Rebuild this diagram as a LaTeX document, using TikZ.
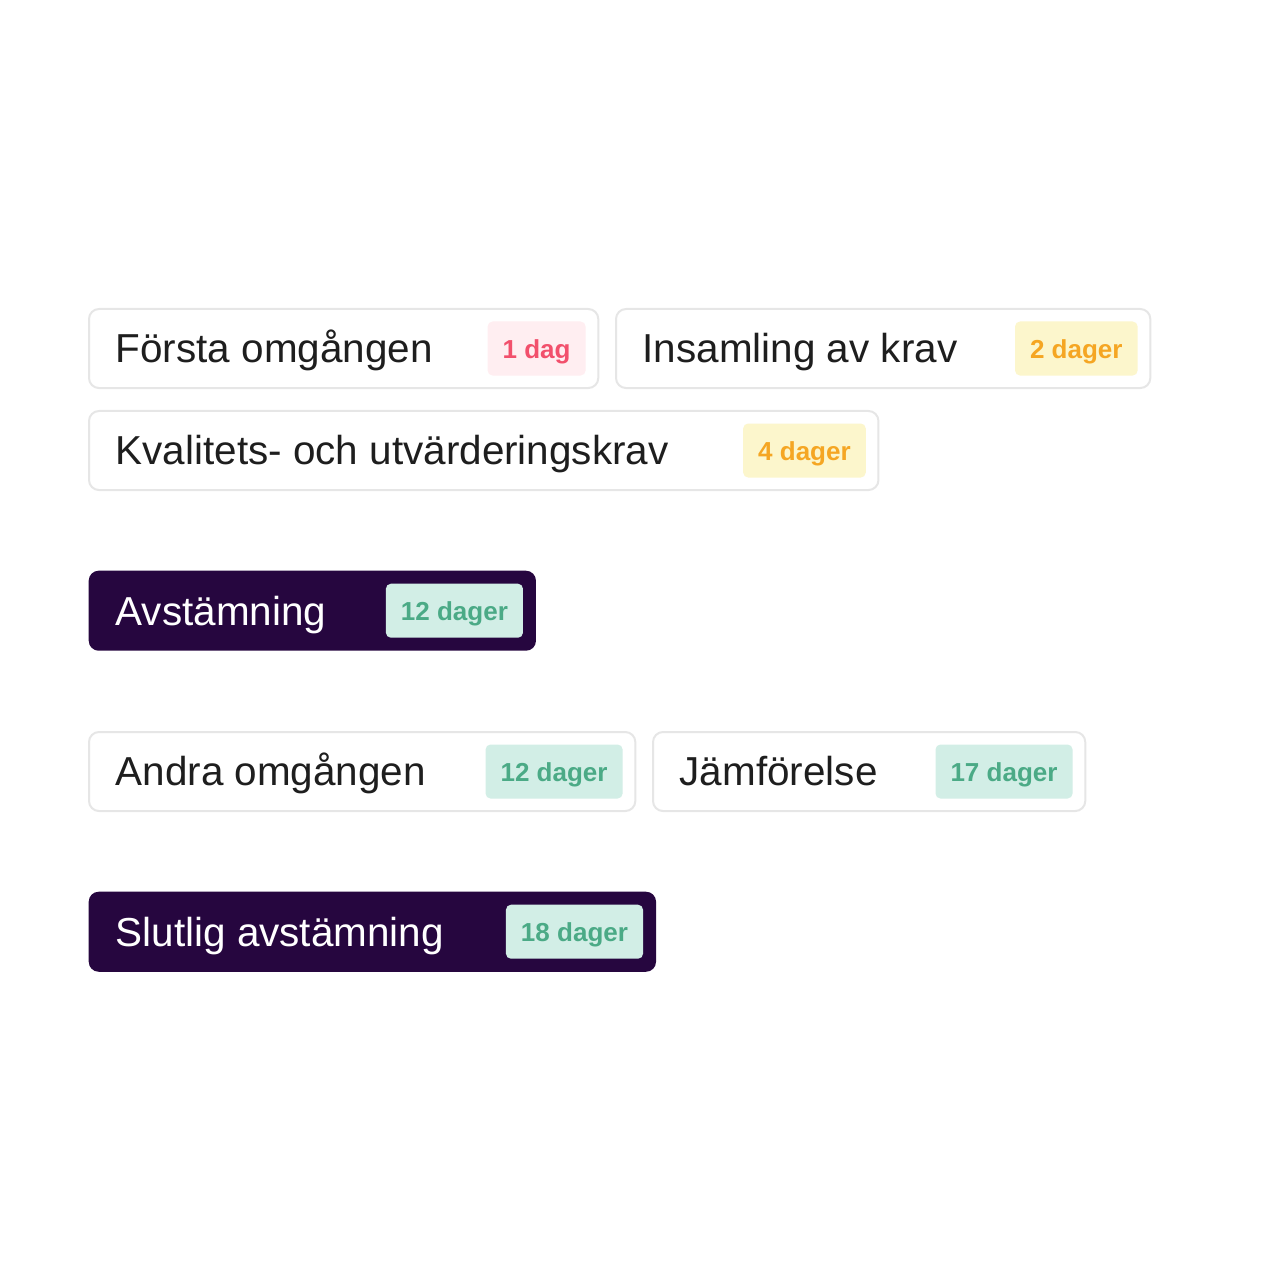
\documentclass[tikz,border=0pt]{standalone}
\usepackage{fontspec}
\setmainfont{Liberation Sans}
\usetikzlibrary{positioning}
\definecolor{textdark}{HTML}{1E1E1E}
\definecolor{cardline}{HTML}{E6E6E6}
\definecolor{darkcard}{HTML}{26063F}
\definecolor{pinktext}{HTML}{F2506C}
\definecolor{pinkbg}{HTML}{FFEEF1}
\definecolor{orangetext}{HTML}{F5A623}
\definecolor{yellowbg}{HTML}{FCF6CC}
\definecolor{greentext}{HTML}{4BAA86}
\definecolor{mintbg}{HTML}{D2EEE6}
\tikzset{
  card/.style={draw=cardline, line width=0.02cm, fill=white, rounded corners=0.1cm,
    minimum height=0.79cm, anchor=north west, inner sep=0pt},
  darkbox/.style={fill=darkcard, rounded corners=0.1cm,
    minimum height=0.8cm, anchor=north west, inner sep=0pt},
  lbl/.style={anchor=base west, inner sep=0pt, text=textdark,
    font=\fontsize{11.5}{14}\selectfont},
  darklbl/.style={lbl, text=white},
  badge/.style={anchor=east, rounded corners=0.05cm, minimum height=0.54cm,
    inner xsep=0.15cm, inner ysep=0pt, text height=0.19cm, text depth=0pt,
    font=\fontsize{7.4}{9}\selectfont\bfseries},
  pinkbadge/.style={badge, fill=pinkbg, text=pinktext},
  yellowbadge/.style={badge, fill=yellowbg, text=orangetext},
  greenbadge/.style={badge, fill=mintbg, text=greentext},
}
\begin{document}
\begin{tikzpicture}[x=0.01cm, y=-0.01cm]
\useasboundingbox (0,0) rectangle (1280,1280);
% erste Reihe
\node[card, minimum width=5.09cm] (forsta) at (88,308) {};
\node[lbl] (forstalbl) at ([xshift=0.27cm, yshift=-0.54cm]forsta.north west) {Första omgången};
\node[pinkbadge] (forstadag) at ([xshift=-0.13cm]forsta.east) {1 dag};
\node[card, minimum width=5.34cm] (insamling) at (615,308) {};
\node[lbl] (insamlinglbl) at ([xshift=0.27cm, yshift=-0.54cm]insamling.north west) {Insamling av krav};
\node[yellowbadge] (insamlingdag) at ([xshift=-0.13cm]insamling.east) {2 dager};
% zweite Reihe
\node[card, minimum width=7.89cm] (kvalitet) at (88,410) {};
\node[lbl] (kvalitetlbl) at ([xshift=0.27cm, yshift=-0.54cm]kvalitet.north west) {Kvalitets- och utvärderingskrav};
\node[yellowbadge] (kvalitetdag) at ([xshift=-0.13cm]kvalitet.east) {4 dager};
% Abstimmung
\node[darkbox, minimum width=4.47cm] (avst) at (88,570) {};
\node[darklbl] (avstlbl) at ([xshift=0.27cm, yshift=-0.55cm]avst.north west) {Avstämning};
\node[greenbadge] (avstdag) at ([xshift=-0.13cm]avst.east) {12 dager};
% dritte Reihe
\node[card, minimum width=5.46cm] (andra) at (88,731) {};
\node[lbl] (andralbl) at ([xshift=0.27cm, yshift=-0.54cm]andra.north west) {Andra omgången};
\node[greenbadge] (andradag) at ([xshift=-0.13cm]andra.east) {12 dager};
\node[card, minimum width=4.32cm] (jamf) at (652,731) {};
\node[lbl] (jamflbl) at ([xshift=0.27cm, yshift=-0.54cm]jamf.north west) {Jämförelse};
\node[greenbadge] (jamfdag) at ([xshift=-0.13cm]jamf.east) {17 dager};
% letzte Abstimmung
\node[darkbox, minimum width=5.67cm] (slut) at (88,891) {};
\node[darklbl] (slutlbl) at ([xshift=0.27cm, yshift=-0.55cm]slut.north west) {Slutlig avstämning};
\node[greenbadge] (slutdag) at ([xshift=-0.13cm]slut.east) {18 dager};
\end{tikzpicture}
\end{document}
